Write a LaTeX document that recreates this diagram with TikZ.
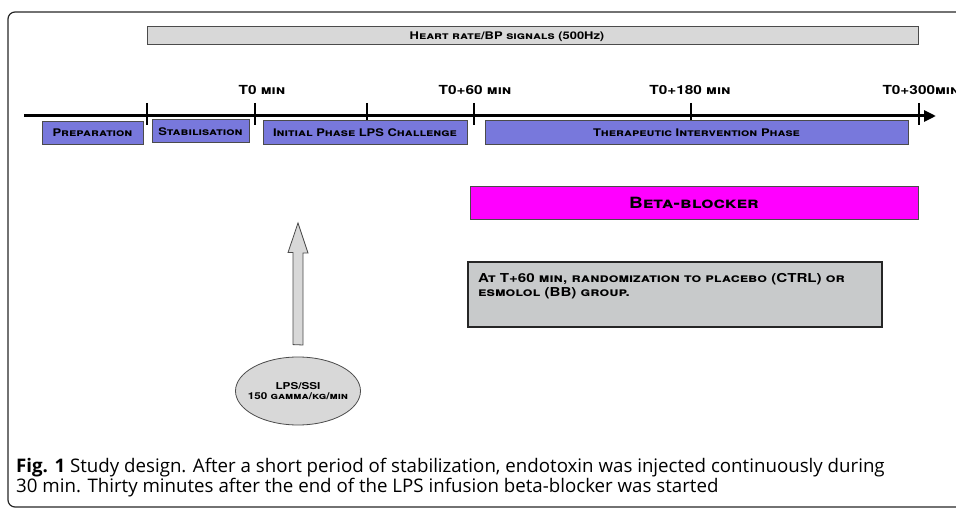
\documentclass[tikz,border=0pt]{standalone}
\usepackage{fontspec}
\usetikzlibrary{positioning,arrows.meta,shapes.geometric}
\newfontfamily\cpfont[Letters=SmallCaps,FakeStretch=1.23]{TeX Gyre Heros}
\newfontfamily\capfont{Open Sans}
\definecolor{phaseblue}{RGB}{120,120,220}
\definecolor{bargrey}{RGB}{216,216,216}
\definecolor{notegrey}{RGB}{200,202,203}
\definecolor{edgegrey}{RGB}{75,75,75}
\definecolor{betapink}{RGB}{255,0,255}
\newcommand\cpsize[1]{\cpfont\bfseries\fontsize{#1}{#1}\selectfont}
\begin{document}
\begin{tikzpicture}[x=1pt,y=-1pt,
  phase/.style={draw=edgegrey,fill=phaseblue,line width=1pt,inner sep=0pt,font=\cpsize{10.5}},
  tlabel/.style={font=\cpsize{12.5}},
  tickmark/.style={line width=1.8pt},
  blockarrow/.style={draw=edgegrey,fill=bargrey,line width=0.8pt}]
\useasboundingbox (0,0) rectangle (956,510);
\draw[line width=1.2pt,draw=black!85,rounded corners=7pt]
  (962,12) -- (8,12) -- (8,507) -- (962,507);
% signals recorded over the whole protocol
\node[draw=edgegrey,fill=bargrey,line width=1pt,minimum width=771,minimum height=18] (hr) at (532.5,36) {};
\node[font=\cpsize{10.5}] (hrlabel) at (507,37) {Heart rate/BP signals (500Hz)};
% time axis
\coordinate (axstart) at (24,116);
\coordinate (axend) at (936,116);
\draw[line width=3pt,-{Triangle[length=12pt,width=11pt]}] (axstart) -- (axend);
\foreach \x in {147,255,367,474,691,919}
  \draw[tickmark] (\x,103) -- (\x,125);
\node[tlabel] (t0) at (262,90) {T0 min};
\node[tlabel] (t60) at (475,90) {T0+60 min};
\node[tlabel] (t180) at (690,90) {T0+180 min};
\node[tlabel,anchor=west] (t300) at (879,90) {T0+300min};
% phases
\node[phase,minimum width=101,minimum height=23] (prep) at (92.5,133) {Preparation};
\node[phase,minimum width=97,minimum height=23] (stab) at (200.5,131.5) {Stabilisation};
\node[phase,minimum width=204,minimum height=24] (chal) at (365,133) {Initial Phase LPS Challenge};
\node[phase,minimum width=423,minimum height=24] (ther) at (696.5,133) {Therapeutic Intervention Phase};
\node[draw=edgegrey,fill=betapink,line width=1pt,minimum width=448,minimum height=33,font=\cpsize{15.5}] (beta) at (694,203) {Beta-blocker};
\node[draw=black!85,fill=notegrey,line width=2pt,minimum width=414,minimum height=65] (note) at (675,294.5) {};
\node[anchor=north west,align=left,inner sep=0pt,font=\cpsize{12.3}] (notetext) at (478,273.5)
  {At T+60 min, randomization to placebo (CTRL) or\\[1pt]esmolol (BB) group.};
% LPS infusion
\node[ellipse,draw=edgegrey,fill=bargrey,line width=0.8pt,minimum width=125,minimum height=68] (lps) at (298,391) {};
\node[align=center,inner sep=0pt,font=\cpsize{9.5}] (lpstext) at (lps) {LPS/SSI\\[1pt]150 gamma/kg/min};
\coordinate (tip) at (298,223);
\draw[blockarrow] ([xshift=-5pt,yshift=12pt]lps.north) -- ++(0,-92) -- ++(-5,0) -- (tip)
  -- ++(10,30) -- ++(-5,0) -- ++(0,92) -- cycle;
% caption
\node[anchor=base west,inner sep=0pt,font=\capfont\fontsize{18.7}{18.7}\selectfont] (capA) at (16,472)
  {\textbf{Fig. 1} Study design. After a short period of stabilization, endotoxin was injected continuously during};
\node[anchor=base west,inner sep=0pt,font=\capfont\fontsize{18.7}{18.7}\selectfont] (capB) at (16,492)
  {30 min. Thirty minutes after the end of the LPS infusion beta-blocker was started};
\end{tikzpicture}
\end{document}
